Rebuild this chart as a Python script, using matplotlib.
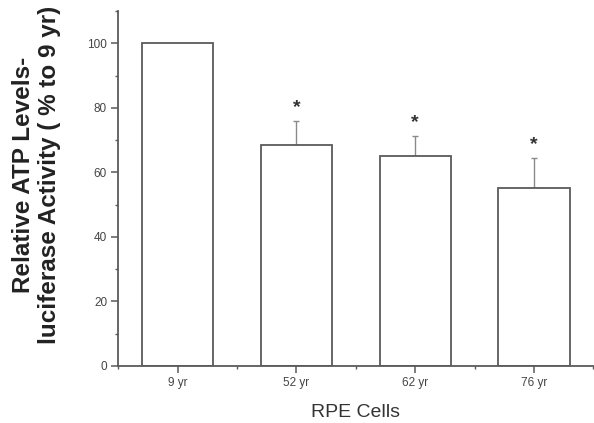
import numpy as np
import matplotlib as mpl
import matplotlib.pyplot as plt
from matplotlib.ticker import MultipleLocator

mpl.rcParams["font.family"] = ["Liberation Sans", "DejaVu Sans"]

groups = ["9 yr", "52 yr", "62 yr", "76 yr"]
activity = [100.0, 68.6, 65.2, 55.1]
sem = [0.0, 7.2, 6.2, 9.3]
signif = [False, True, True, True]

grey = "#5a5a5a"
x = np.arange(1, len(groups) + 1)

fig = plt.figure(figsize=(5.94, 4.23), dpi=100)
ax = fig.add_axes([0.199, 0.135, 0.80, 0.839])

ax.bar(x, activity, width=0.6, color="white", edgecolor=grey, linewidth=1.3, zorder=2)
err_x = [xi for xi, s in zip(x, sem) if s > 0]
err_y = [a for a, s in zip(activity, sem) if s > 0]
err_s = [s for s in sem if s > 0]
ax.errorbar(err_x, err_y, yerr=[np.zeros(len(err_s)), err_s], fmt="none",
            ecolor="#8a8a8a", elinewidth=1.0, capsize=2.5, capthick=1.0, zorder=1)
for xi, a, s, flag in zip(x, activity, sem, signif):
    if flag:
        ax.text(xi, a + s + 1.5, "*", ha="center", va="bottom",
                fontsize=14, fontweight="bold", color="#333333")

ax.set_xlim(0.5, 4.5)
ax.set_ylim(0, 110)
ax.set_xticks(x)
ax.set_xticklabels(groups)
ax.xaxis.set_minor_locator(MultipleLocator(1, offset=0.5))
ax.set_yticks([0, 20, 40, 60, 80, 100])
ax.yaxis.set_minor_locator(MultipleLocator(10))

for side in ["top", "right"]:
    ax.spines[side].set_visible(False)
for side in ["left", "bottom"]:
    ax.spines[side].set_color(grey)
    ax.spines[side].set_linewidth(1.3)

ax.tick_params(which="major", direction="out", length=5, width=1.1, color=grey,
               labelsize=8.5, labelcolor="#444444", pad=3)
ax.tick_params(which="minor", direction="out", length=2.5, width=1.0, color=grey)

ax.set_xlabel("RPE Cells", fontsize=14, color="#333333", labelpad=11)
ax.set_ylabel("Relative ATP Levels-\nluciferase Activity ( % to 9 yr)",
              fontsize=17.5, fontweight="bold", color="#222222",
              linespacing=1.15)
ax.yaxis.set_label_coords(-0.12, 0.538)

fig.savefig("out.png", dpi=100)
